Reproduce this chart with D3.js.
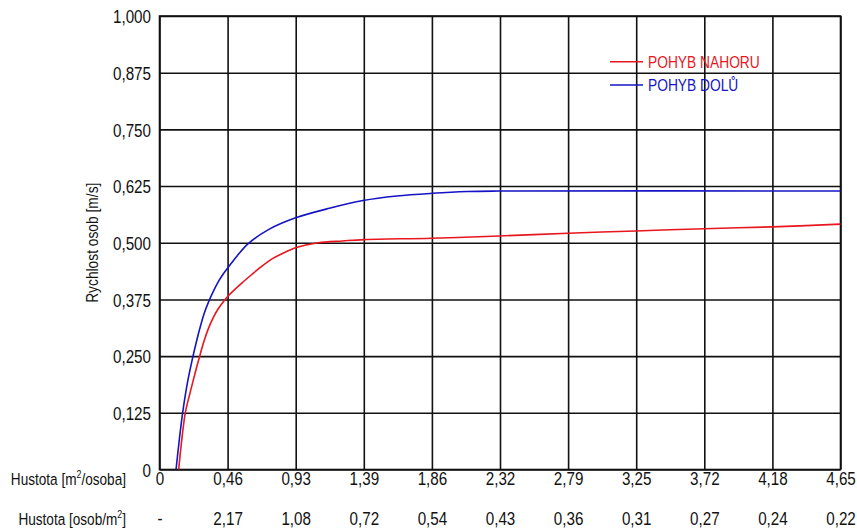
<!DOCTYPE html>
<html>
<head>
<meta charset="utf-8">
<script src="https://cdn.jsdelivr.net/npm/d3@7"></script>
<style>
  html, body { margin: 0; padding: 0; background: #fff; }
  svg { display: block; }
  text { font-family: "Liberation Sans", Arial, sans-serif; fill: #111; }
</style>
</head>
<body>
<svg id="chart" width="857" height="528"></svg>
<script>
// Walking speed on stairs vs. available area per person
const areaTicks = [0, 0.465, 0.93, 1.395, 1.86, 2.325, 2.79, 3.255, 3.72, 4.185, 4.65];
const areaLabels = ["0", "0,46", "0,93", "1,39", "1,86", "2,32", "2,79", "3,25", "3,72", "4,18", "4,65"];
const densityLabels = ["-", "2,17", "1,08", "0,72", "0,54", "0,43", "0,36", "0,31", "0,27", "0,24", "0,22"];
const speedTicks = [0, 0.125, 0.25, 0.375, 0.5, 0.625, 0.75, 0.875, 1.0];

// area [m2/person] -> speed [m/s], moving up
const upArea  = [0.131, 0.150, 0.176, 0.20, 0.225, 0.25, 0.272, 0.30, 0.333, 0.367, 0.40, 0.436, 0.47, 0.52, 0.572, 0.63, 0.686, 0.766, 0.85, 0.93, 1.0, 1.084, 1.25, 1.398, 1.86, 2.32, 2.79, 3.25, 3.72, 4.18, 4.65];
const upSpeed = [0, 0.06, 0.125, 0.158, 0.19, 0.221, 0.247, 0.279, 0.310, 0.335, 0.354, 0.370, 0.383, 0.399, 0.414, 0.430, 0.445, 0.464, 0.478, 0.489, 0.495, 0.500, 0.504, 0.507, 0.510, 0.515, 0.521, 0.526, 0.531, 0.535, 0.541];

// moving down
const downArea  = [0.113, 0.135, 0.158, 0.19, 0.222, 0.25, 0.277, 0.305, 0.333, 0.365, 0.40, 0.435, 0.47, 0.53, 0.606, 0.75, 0.93, 1.16, 1.39, 1.62, 1.86, 2.10, 2.32, 4.65];
const downSpeed = [0, 0.065, 0.125, 0.19, 0.24, 0.279, 0.313, 0.344, 0.368, 0.391, 0.413, 0.431, 0.446, 0.471, 0.498, 0.530, 0.555, 0.576, 0.593, 0.603, 0.609, 0.613, 0.614, 0.614];

const seriesNames = ["POHYB NAHORU", "POHYB DOLŮ"];
const seriesColors = ["#e8161e", "#1414c4"];

const svg = d3.select("#chart");
const plotLeft = 159.5, plotRight = 840.5, plotTop = 16, plotBottom = 469.5;
const squeeze = 0.8; // narrow lettering

const x = d3.scaleLinear().domain([0, 4.65]).range([plotLeft, plotRight]);
const y = d3.scaleLinear().domain([0, 1]).range([plotBottom, plotTop]);

// grid via axes
const gridColor = "#111";
const yAxis = d3.axisLeft(y).tickValues(speedTicks).tickSize(-(plotRight - plotLeft)).tickPadding(0)
  .tickFormat(d => d === 0 ? "0" : d3.format(".3f")(d).replace(".", ","));
const gy = svg.append("g").attr("transform", `translate(${plotLeft},0)`).call(yAxis);
gy.select(".domain").remove();
gy.selectAll("line").attr("stroke", gridColor).attr("stroke-width", 1.6);
gy.selectAll("text").attr("font-size", 19).attr("fill", "#111")
  .attr("x", -8.5 / squeeze).attr("dy", "0.36em").attr("transform", `scale(${squeeze},1)`);

const xAxis = d3.axisBottom(x).tickValues(areaTicks).tickSize(-(plotBottom - plotTop)).tickPadding(0)
  .tickFormat((d, i) => areaLabels[i]);
const gx = svg.append("g").attr("transform", `translate(0,${plotBottom})`).call(xAxis);
gx.select(".domain").remove();
gx.selectAll("line").attr("stroke", gridColor).attr("stroke-width", 1.6);
gx.selectAll("text").attr("font-size", 19).attr("fill", "#111").attr("y", 15.5).attr("dy", 0)
  .attr("transform", `scale(${squeeze},1)`);

// second row: density
const gx2 = svg.append("g").attr("transform", `translate(0,${plotBottom})`)
  .call(d3.axisBottom(x).tickValues(areaTicks).tickSize(0).tickPadding(0).tickFormat((d, i) => densityLabels[i]));
gx2.select(".domain").remove();
gx2.selectAll("text").attr("font-size", 19).attr("fill", "#111").attr("y", 55.5).attr("dy", 0)
  .attr("transform", `scale(${squeeze},1)`);

// frame
svg.append("rect").attr("x", plotLeft).attr("y", plotTop).attr("width", plotRight - plotLeft).attr("height", plotBottom - plotTop)
  .attr("fill", "none").attr("stroke", gridColor).attr("stroke-width", 1.6);

// row titles
svg.append("g").attr("transform", `translate(126,485) scale(${squeeze},1)`)
  .append("text").attr("text-anchor", "end").attr("font-size", 17)
  .html('Hustota [m<tspan font-size="11" dy="-7">2</tspan><tspan dy="7">/osoba]</tspan>');
svg.append("g").attr("transform", `translate(126,525) scale(${squeeze},1)`)
  .append("text").attr("text-anchor", "end").attr("font-size", 17)
  .html('Hustota [osob/m<tspan font-size="11" dy="-7">2</tspan><tspan dy="7">]</tspan>');

// y title
svg.append("text").attr("transform", `translate(98,${(plotTop + plotBottom) / 2}) rotate(-90) scale(0.82,1)`)
  .attr("text-anchor", "middle").attr("font-size", 16.8).text("Rychlost osob [m/s]");

// curves
const line = d3.line().x(d => x(d[0])).y(d => y(d[1])).curve(d3.curveCatmullRom.alpha(0.5));
const series = [d3.zip(upArea, upSpeed), d3.zip(downArea, downSpeed)];
series.forEach((pts, i) => {
  svg.append("path").datum(pts).attr("d", line).attr("fill", "none")
    .attr("stroke", seriesColors[i]).attr("stroke-width", 1.6);
});

// legend
const lg = svg.append("g");
seriesNames.forEach((name, i) => {
  const yy = 61.7 + i * 23.3;
  lg.append("line").attr("x1", 610).attr("x2", 643).attr("y1", yy).attr("y2", yy)
    .attr("stroke", seriesColors[i]).attr("stroke-width", 1.6);
  lg.append("g").attr("transform", `translate(648,${yy + 5.8}) scale(0.82,1)`)
    .append("text").attr("font-size", 16.8).style("fill", seriesColors[i]).text(name);
});
</script>
</body>
</html>
